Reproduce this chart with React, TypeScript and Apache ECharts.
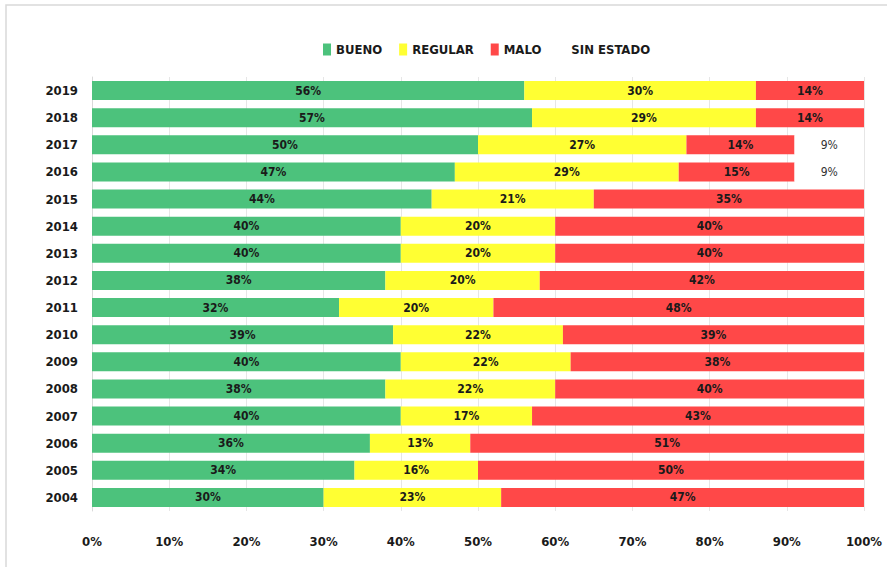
import React, { useEffect, useRef } from "react";
import * as echarts from "echarts";

const years = ["2004","2005","2006","2007","2008","2009","2010","2011","2012","2013","2014","2015","2016","2017","2018","2019"];
const bueno = [30,34,36,40,38,40,39,32,38,40,40,44,47,50,57,56];
const regular = [23,16,13,17,22,22,22,20,20,20,20,21,29,27,29,30];
const malo = [47,50,51,43,40,38,39,48,42,40,40,35,15,14,14,14];
const sinEstado = [null,null,null,null,null,null,null,null,null,null,null,null,9,9,null,null];
const xTicks = [0,10,20,30,40,50,60,70,80,90,100];

const FONT = "'DejaVu Sans Condensed', 'Open Sans', sans-serif";

export default function App() {
  const ref = useRef<HTMLDivElement>(null);
  useEffect(() => {
    if (!ref.current) return;
    const chart = echarts.init(ref.current, undefined, { renderer: "svg" });
    const label = {
      show: true,
      position: "inside",
      formatter: "{c}%",
      color: "#1a1a1a",
      fontFamily: FONT,
      fontWeight: "bold",
      fontSize: 12,
    };
    const mk = (name: string, data: any[], color: string, extra: any = {}) => ({
      name,
      type: "bar",
      stack: "t",
      data,
      barCategoryGap: "30%",
      itemStyle: { color },
      label: { ...label, ...(extra.label || {}) },
      emphasis: { disabled: true },
    });
    chart.setOption({
      animation: false,
      backgroundColor: "#ffffff",
      graphic: [
        {
          type: "rect",
          shape: { x: 6, y: 5, width: 900, height: 600 },
          style: { fill: "none", stroke: "#d9d9d9", lineWidth: 1.5 },
          silent: true,
        },
      ],
      legend: {
        top: 38,
        left: 318,
        itemWidth: 8,
        itemHeight: 12,
        itemGap: 17,
        icon: "rect",
        textStyle: { fontFamily: FONT, fontWeight: "bold", fontSize: 13, color: "#1a1a1a" },
        data: ["BUENO", "REGULAR", "MALO", "SIN ESTADO"],
      },
      grid: { left: 92, right: 23, top: 77, bottom: 56, containLabel: false },
      xAxis: {
        type: "value",
        min: 0,
        max: 100,
        interval: 10,
        axisLine: { show: false },
        axisTick: { show: false },
        splitLine: { show: true, lineStyle: { color: "#e6e6e6", width: 1 } },
        axisLabel: {
          margin: 24,
          formatter: (v: number) => (xTicks.includes(v) ? v + "%" : ""),
          fontFamily: FONT,
          fontWeight: "bold",
          fontSize: 13,
          color: "#1a1a1a",
        },
      },
      yAxis: {
        type: "category",
        data: years,
        axisLine: { show: true, lineStyle: { color: "#d9d9d9" } },
        axisTick: { show: false },
        axisLabel: {
          margin: 14,
          fontFamily: FONT,
          fontWeight: "bold",
          fontSize: 13,
          color: "#1a1a1a",
        },
      },
      series: [
        mk("BUENO", bueno, "#4cc27c"),
        mk("REGULAR", regular, "#ffff33"),
        mk("MALO", malo, "#ff4848"),
        mk("SIN ESTADO", sinEstado, "#ffffff", { label: { fontWeight: "normal", color: "#333333" } }),
      ],
    });
    return () => chart.dispose();
  }, []);
  return (
    <div
      ref={ref}
      style={{ position: "fixed", left: 0, top: 0, width: 887, height: 567 }}
    />
  );
}
